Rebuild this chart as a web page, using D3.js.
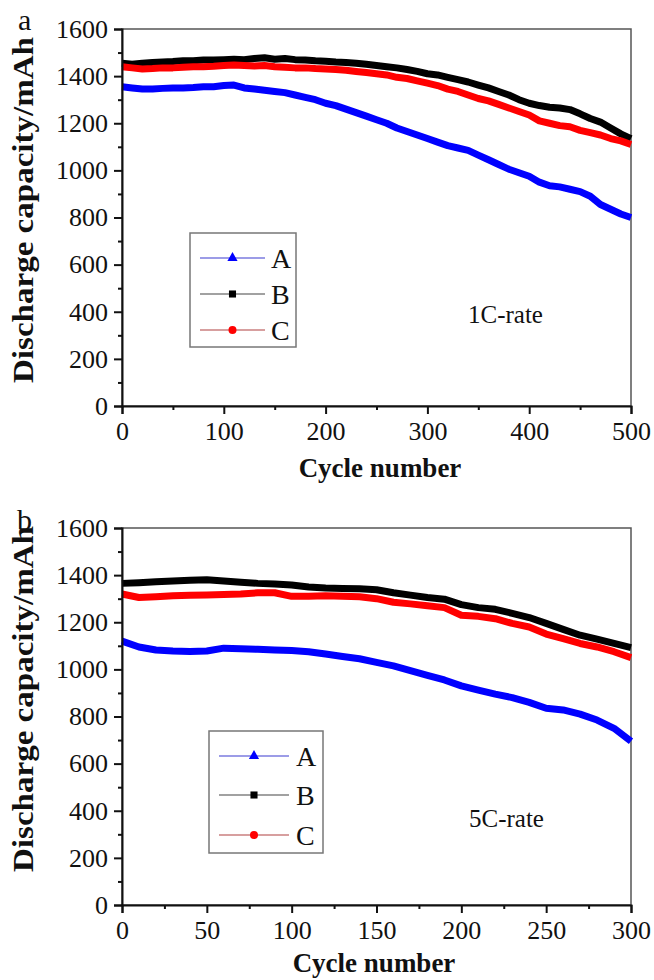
<!DOCTYPE html>
<html>
<head>
<meta charset="utf-8">
<script src="https://cdn.jsdelivr.net/npm/d3@7/dist/d3.min.js"></script>
<style>
  html, body { margin: 0; padding: 0; background: #fff; }
</style>
</head>
<body>
<svg id="chart" width="654" height="980"></svg>
<script>
const FONT = '"Liberation Serif", "Times New Roman", Times, "DejaVu Serif", serif';

// Panel a: 1C-rate, one value every 10 cycles (0..500)
const cyclesA = d3.range(0, 501, 10);
const a1C = [1355, 1350, 1345, 1345, 1348, 1350, 1350, 1352, 1355, 1355, 1360,
             1362, 1350, 1345, 1340, 1335, 1330, 1320, 1310, 1300, 1285,
             1275, 1260, 1245, 1230, 1215, 1200, 1180, 1165, 1150, 1135,
             1120, 1105, 1095, 1085, 1065, 1045, 1025, 1005, 990, 975,
             950, 935, 930, 920, 910, 890, 855, 835, 815, 800];
const b1C = [1455, 1450, 1455, 1458, 1460, 1462, 1465, 1465, 1468, 1468, 1470,
             1472, 1470, 1475, 1478, 1472, 1475, 1470, 1468, 1465, 1463,
             1460, 1458, 1455, 1450, 1445, 1440, 1435, 1428, 1420, 1410,
             1405, 1395, 1385, 1375, 1362, 1350, 1335, 1320, 1300, 1285,
             1275, 1268, 1265, 1258, 1240, 1220, 1205, 1180, 1155, 1135];
const c1C = [1440, 1435, 1430, 1432, 1435, 1435, 1438, 1440, 1440, 1442, 1445,
             1447, 1445, 1443, 1445, 1440, 1438, 1435, 1435, 1432, 1430,
             1428, 1425, 1420, 1415, 1410, 1405, 1395, 1390, 1380, 1370,
             1360, 1345, 1335, 1320, 1305, 1295, 1280, 1265, 1250, 1235,
             1210, 1200, 1190, 1185, 1170, 1160, 1150, 1135, 1125, 1110];

// Panel b: 5C-rate, one value every 10 cycles (0..300)
const cyclesB = d3.range(0, 301, 10);
const a5C = [1120, 1095, 1082, 1078, 1076, 1078, 1090, 1088, 1085, 1082, 1080,
             1075, 1065, 1055, 1045, 1030, 1015, 995, 975, 955, 930,
             912, 895, 880, 860, 835, 828, 810, 785, 750, 695];
const b5C = [1365, 1368, 1372, 1375, 1378, 1380, 1375, 1370, 1365, 1362, 1358,
             1350, 1345, 1343, 1342, 1338, 1325, 1315, 1305, 1298, 1275,
             1262, 1255, 1238, 1220, 1195, 1170, 1145, 1128, 1110, 1092];
const c5C = [1320, 1305, 1308, 1312, 1315, 1316, 1318, 1320, 1325, 1325, 1310,
             1310, 1312, 1310, 1308, 1300, 1285, 1278, 1270, 1262, 1230,
             1225, 1215, 1195, 1180, 1150, 1130, 1110, 1095, 1075, 1050];

const seriesNames = ["A", "B", "C"];
const seriesColors = ["#0000ff", "#000000", "#ff0000"];
const legendLineColors = ["#3a3ad0", "#444444", "#b04040"];
const yTicks = d3.range(0, 1601, 200);
const yMinor = d3.range(100, 1600, 200);

const svg = d3.select("#chart").attr("font-family", FONT);

function drawPanel(p) {
  const x = d3.scaleLinear().domain([0, p.xMax]).range([p.left, p.right]);
  const y = d3.scaleLinear().domain([0, 1600]).range([p.bottom, p.top]);
  const g = svg.append("g");

  // frame (top/right thin grey)
  g.append("rect")
    .attr("x", p.left).attr("y", p.top)
    .attr("width", p.right - p.left).attr("height", p.bottom - p.top)
    .attr("fill", "none").attr("stroke", "#555").attr("stroke-width", 1.5);

  // data
  const line = d3.line().x(d => x(d[0])).y(d => y(d[1]));
  p.series.forEach((vals, i) => {
    g.append("path")
      .datum(p.cycles.map((c, j) => [c, vals[j]]))
      .attr("fill", "none")
      .attr("stroke", seriesColors[i])
      .attr("stroke-width", 7)
      .attr("stroke-linejoin", "round")
      .attr("d", line);
  });

  // axes
  g.append("g").attr("transform", `translate(${p.left},0)`)
    .call(d3.axisLeft(y).tickValues(yTicks).tickSize(8).tickPadding(6).tickFormat(d3.format("d")));
  g.append("g").attr("transform", `translate(${p.left},0)`)
    .call(d3.axisLeft(y).tickValues(yMinor).tickSize(4).tickFormat(""))
    .select(".domain").remove();
  g.append("g").attr("transform", `translate(0,${p.bottom})`)
    .call(d3.axisBottom(x).tickValues(p.xTicks).tickSize(8).tickPadding(8).tickFormat(d3.format("d")));
  g.append("g").attr("transform", `translate(0,${p.bottom})`)
    .call(d3.axisBottom(x).tickValues(p.xMinor).tickSize(4).tickFormat(""))
    .select(".domain").remove();

  g.selectAll("g").attr("font-family", FONT);
  g.selectAll(".domain").attr("stroke", "#111").attr("stroke-width", 2);
  g.selectAll(".tick line").attr("stroke", "#111").attr("stroke-width", 2);
  g.selectAll(".tick text")
    .attr("font-size", 26)
    .attr("font-family", FONT)
    .attr("fill", "#111");

  // axis titles
  g.append("text")
    .attr("transform", `translate(33,${p.yTitleY}) rotate(-90)`)
    .attr("text-anchor", "middle")
    .attr("font-family", FONT)
    .attr("font-size", 30).attr("font-weight", "bold")
    .attr("textLength", 346).attr("lengthAdjust", "spacingAndGlyphs")
    .attr("fill", "#111")
    .text("Discharge capacity/mAh");
  g.append("text")
    .attr("x", p.xTitleX).attr("y", p.xTitleY)
    .attr("text-anchor", "middle")
    .attr("font-family", FONT)
    .attr("font-size", 27).attr("font-weight", "bold")
    .attr("fill", "#111")
    .text("Cycle number");

  // panel letter
  g.append("text").attr("x", p.labelX).attr("y", p.labelY)
    .attr("font-family", FONT).attr("font-size", 30).attr("fill", "#111").text(p.label);

  // rate note
  g.append("text").attr("x", p.noteX).attr("y", p.noteY)
    .attr("font-family", FONT).attr("font-size", 25).attr("fill", "#111").text(p.note);

  // legend
  const L = p.legend;
  g.append("rect")
    .attr("x", L.x).attr("y", L.y).attr("width", L.w).attr("height", L.h)
    .attr("fill", "#fff").attr("stroke", "#777").attr("stroke-width", 1.5);
  const sym = [d3.symbolTriangle, d3.symbolSquare, d3.symbolCircle];
  seriesNames.forEach((name, i) => {
    const cy = L.rows[i];
    g.append("line")
      .attr("x1", L.lx1).attr("x2", L.lx2).attr("y1", cy).attr("y2", cy)
      .attr("stroke", legendLineColors[i]).attr("stroke-width", 1.2);
    g.append("path")
      .attr("transform", `translate(${(L.lx1 + L.lx2) / 2},${cy})`)
      .attr("d", d3.symbol().type(sym[i]).size(i === 0 ? 45 : 50)())
      .attr("fill", seriesColors[i]);
    g.append("text")
      .attr("x", L.tx).attr("y", cy).attr("dy", "0.35em")
      .attr("font-family", FONT).attr("font-size", 28).attr("fill", "#111").text(name);
  });
}

drawPanel({
  left: 122, right: 631, top: 29, bottom: 406, xMax: 500,
  xTicks: d3.range(0, 501, 100), xMinor: d3.range(50, 500, 100),
  cycles: cyclesA, series: [a1C, b1C, c1C],
  yTitleY: 210, xTitleX: 380, xTitleY: 477,
  label: "a", labelX: 18, labelY: 30,
  note: "1C-rate", noteX: 468, noteY: 323,
  legend: { x: 190, y: 233, w: 106, h: 114, rows: [258, 294, 330],
            lx1: 200, lx2: 265, tx: 271 }
});

drawPanel({
  left: 122, right: 631, top: 528, bottom: 905, xMax: 300,
  xTicks: d3.range(0, 301, 50), xMinor: d3.range(25, 300, 50),
  cycles: cyclesB, series: [a5C, b5C, c5C],
  yTitleY: 699, xTitleX: 374, xTitleY: 972,
  label: "b", labelX: 17, labelY: 530,
  note: "5C-rate", noteX: 469, noteY: 827,
  legend: { x: 209, y: 731, w: 114, h: 122, rows: [756, 795, 835],
            lx1: 219, lx2: 289, tx: 296 }
});
</script>
</body>
</html>
